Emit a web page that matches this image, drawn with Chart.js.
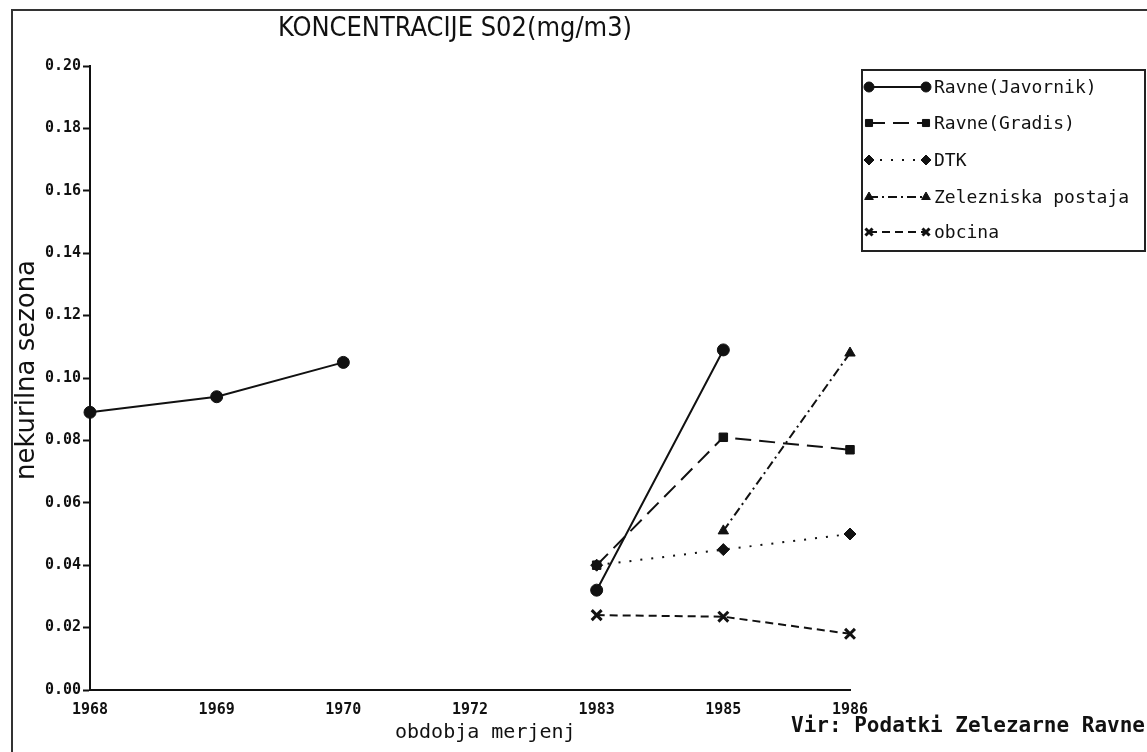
<!DOCTYPE html>
<html>
<head>
<meta charset="utf-8">
<title>Koncentracije SO2</title>
<script src="https://cdn.jsdelivr.net/npm/chart.js"></script>
<style>
  html, body { margin: 0; padding: 0; background: #fff; }
  #wrap { position: relative; width: 1147px; height: 752px; }
</style>
</head>
<body>
<div id="wrap"><canvas id="chart"></canvas></div>
<script>
// data
const categories = ["1968", "1969", "1970", "1972", "1983", "1985", "1986"];
const javornik   = [0.089, 0.094, 0.105, null, 0.032, 0.109, null];
const gradis     = [null, null, null, null, 0.040, 0.081, 0.077];
const dtk        = [null, null, null, null, 0.040, 0.045, 0.050];
const zelezniska = [null, null, null, null, null, 0.051, 0.108];
const obcina     = [null, null, null, null, 0.024, 0.0235, 0.018];
const seriesNames = ["Ravne(Javornik)", "Ravne(Gradis)", "DTK", "Zelezniska postaja", "obcina"];
const yTickValues = [0, 0.02, 0.04, 0.06, 0.08, 0.10, 0.12, 0.14, 0.16, 0.18, 0.20];

const titleText = "KONCENTRACIJE S02(mg/m3)";
const yAxisText = "nekurilna sezona";
const xAxisText = "obdobja merjenj";
const sourceText = "Vir: Podatki Zelezarne Ravne";

const INK = "#111";
const tickFont = { family: "'DejaVu Sans Mono', monospace", size: 15, weight: "bold" };

function series(label, data, style, dash) {
  return {
    label: label,
    data: data,
    borderColor: INK,
    backgroundColor: INK,
    borderWidth: 2,
    borderDash: dash,
    pointStyle: style,
    pointRadius: style === "crossRot" ? 7 : 6,
    pointBorderWidth: style === "crossRot" ? 3 : 1,
    pointBackgroundColor: INK,
    pointBorderColor: INK,
    spanGaps: false,
    tension: 0
  };
}

// text, frame and the boxed legend
const decorations = {
  id: "decorations",
  afterDraw(chart) {
    const ctx = chart.ctx;
    ctx.save();

    // scan frame (left and top edge)
    ctx.strokeStyle = "#333";
    ctx.lineWidth = 2;
    ctx.beginPath();
    ctx.moveTo(12, 752);
    ctx.lineTo(12, 10);
    ctx.lineTo(1147, 10);
    ctx.stroke();

    ctx.fillStyle = INK;

    // title, squeezed to the width it has in the scan
    ctx.font = "200 25px 'DejaVu Sans Condensed', 'DejaVu Sans', sans-serif";
    ctx.textBaseline = "middle";
    ctx.textAlign = "left";
    const tw = ctx.measureText(titleText).width;
    ctx.save();
    ctx.translate(278, 29);
    ctx.scale(354 / tw, 1.05);
    ctx.fillText(titleText, 0, 0);
    ctx.restore();

    // y axis title
    ctx.save();
    ctx.font = "500 26px 'DejaVu Sans Condensed', 'DejaVu Sans', sans-serif";
    ctx.translate(27, 370);
    ctx.rotate(-Math.PI / 2);
    ctx.textAlign = "center";
    const yw = ctx.measureText(yAxisText).width;
    ctx.scale(220 / yw, 1);
    ctx.fillText(yAxisText, 0, 0);
    ctx.restore();

    // x axis title and source note
    ctx.font = "20px 'DejaVu Sans Mono', monospace";
    ctx.textAlign = "left";
    ctx.fillText(xAxisText, 395, 733);
    ctx.font = "bold 21px 'DejaVu Sans Mono', monospace";
    ctx.textAlign = "right";
    ctx.fillText(sourceText, 1145, 727);

    // legend box
    const bx = 862, by = 70, bw = 283, bh = 181;
    ctx.lineWidth = 2;
    ctx.strokeStyle = "#222";
    ctx.setLineDash([]);
    ctx.strokeRect(bx, by, bw, bh);
    const rows = [87, 123, 160, 197, 232];
    const drawPoint = Chart.helpers && Chart.helpers.drawPoint;
    chart.data.datasets.forEach((ds, i) => {
      const y = rows[i];
      ctx.strokeStyle = INK;
      ctx.lineWidth = 2;
      ctx.setLineDash(ds.borderDash || []);
      ctx.beginPath();
      ctx.moveTo(869, y);
      ctx.lineTo(926, y);
      ctx.stroke();
      ctx.setLineDash([]);
      if (drawPoint) {
        ctx.fillStyle = INK;
        ctx.strokeStyle = INK;
        ctx.lineWidth = ds.pointBorderWidth;
        const opts = { pointStyle: ds.pointStyle, radius: 5, rotation: 0, borderWidth: ds.pointBorderWidth };
        drawPoint(ctx, opts, 869, y);
        drawPoint(ctx, opts, 926, y);
      }
      ctx.fillStyle = INK;
      ctx.font = "18px 'DejaVu Sans Mono', monospace";
      ctx.textAlign = "left";
      ctx.textBaseline = "middle";
      ctx.fillText(ds.label, 934, y + 1);
    });

    ctx.restore();
  }
};

new Chart(document.getElementById("chart"), {
  type: "line",
  data: {
    labels: categories,
    datasets: [
      series(seriesNames[0], javornik, "circle", []),
      series(seriesNames[1], gradis, "rect", [16, 8]),
      series(seriesNames[2], dtk, "rectRot", [2, 9]),
      series(seriesNames[3], zelezniska, "triangle", [9, 4, 2, 4]),
      series(seriesNames[4], obcina, "crossRot", [8, 5])
    ]
  },
  options: {
    responsive: true,
    maintainAspectRatio: false,
    animation: false,
    layout: { padding: { left: 0, top: 66, right: 297, bottom: 0 } },
    plugins: {
      legend: { display: false },
      title: { display: false },
      tooltip: { enabled: false }
    },
    scales: {
      x: {
        type: "category",
        offset: false,
        grid: { display: false, drawTicks: false },
        border: { display: true, color: INK, width: 2 },
        ticks: { color: INK, font: tickFont, padding: 11, maxRotation: 0, autoSkip: false },
        afterFit(scale) { scale.height = 62; }
      },
      y: {
        min: 0,
        max: 0.2,
        grid: { display: true, drawOnChartArea: false, drawTicks: true, tickLength: 7, color: INK, tickWidth: 2 },
        border: { display: true, color: INK, width: 2 },
        ticks: {
          color: INK,
          font: tickFont,
          padding: 2,
          callback: (v) => Number(v).toFixed(2)
        },
        afterBuildTicks(scale) { scale.ticks = yTickValues.map(v => ({ value: v })); },
        afterFit(scale) { scale.width = 90; }
      }
    }
  },
  plugins: [decorations]
});
</script>
</body>
</html>
